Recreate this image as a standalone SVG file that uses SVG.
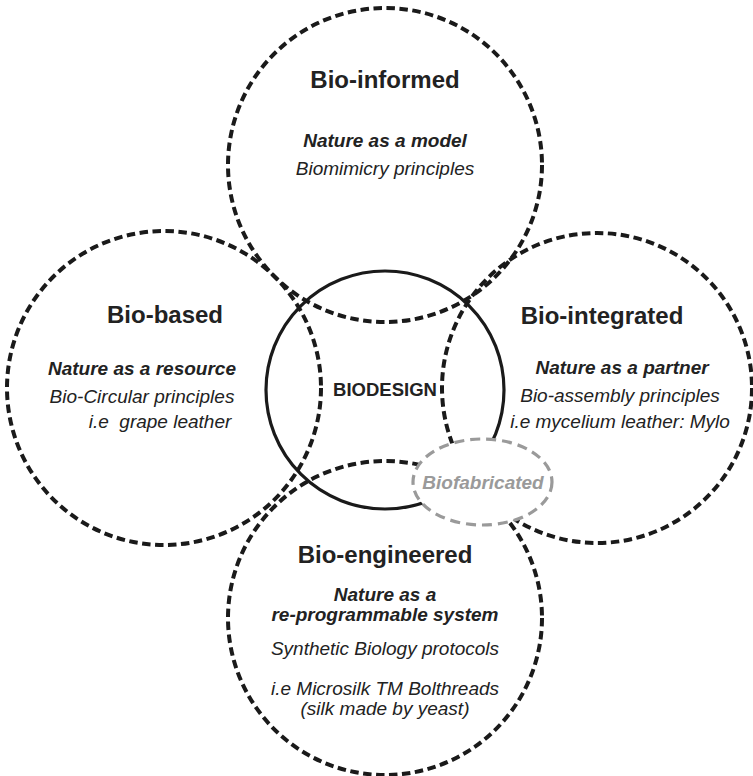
<svg xmlns="http://www.w3.org/2000/svg" width="753" height="776" viewBox="0 0 753 776">
<style>
.ring{fill:none;stroke:#1a1a1a;stroke-width:4;stroke-dasharray:8.5 4.5}
.core{fill:none;stroke:#1a1a1a;stroke-width:3.2}
.fab{fill:#fff;stroke:#9a9a9a;stroke-width:3.2;stroke-dasharray:10 6}
text{font-family:"Liberation Sans",Arial,Helvetica,sans-serif;fill:#222;text-anchor:middle}
.t{font-size:24px;font-weight:bold}
.s{font-size:19px;font-weight:bold;font-style:italic}
.b{font-size:19px;font-style:italic}
.c{font-size:18.5px;font-weight:bold}
.g{font-size:19px;font-weight:bold;font-style:italic;fill:#9a9a9a}
</style>
<rect width="753" height="776" fill="#fff"/>
<g id="bio-informed">
<circle class="ring" cx="385" cy="165" r="157"/>
<text class="t" x="385" y="88">Bio-informed</text>
<text class="s" x="385" y="147">Nature as a model</text>
<text class="b" x="385" y="175">Biomimicry principles</text>
</g>
<g id="bio-based">
<circle class="ring" cx="164" cy="388" r="157"/>
<text class="t" x="165" y="323">Bio-based</text>
<text class="s" x="142" y="375">Nature as a resource</text>
<text class="b" x="142" y="403">Bio-Circular principles</text>
<text class="b" x="160" y="428" xml:space="preserve">i.e  grape leather</text>
</g>
<g id="bio-integrated">
<circle class="ring" cx="597" cy="388" r="155"/>
<text class="t" x="602" y="324">Bio-integrated</text>
<text class="s" x="622" y="374">Nature as a partner</text>
<text class="b" x="620" y="402">Bio-assembly principles</text>
<text class="b" x="620" y="428">i.e mycelium leather: Mylo</text>
</g>
<g id="bio-engineered">
<circle class="ring" cx="385" cy="618" r="157"/>
<text class="t" x="385" y="563">Bio-engineered</text>
<text class="s" x="385" y="601">Nature as a</text>
<text class="s" x="385" y="621">re-programmable system</text>
<text class="b" x="385" y="655">Synthetic Biology protocols</text>
<text class="b" x="385" y="695">i.e Microsilk TM Bolthreads</text>
<text class="b" x="385" y="715">(silk made by yeast)</text>
</g>
<g id="biodesign">
<circle class="core" cx="385" cy="390" r="119"/>
<text class="c" x="385" y="396">BIODESIGN</text>
</g>
<g id="biofabricated">
<ellipse class="fab" cx="482.5" cy="482" rx="69.5" ry="43"/>
<text class="g" x="483" y="489">Biofabricated</text>
</g>
</svg>
